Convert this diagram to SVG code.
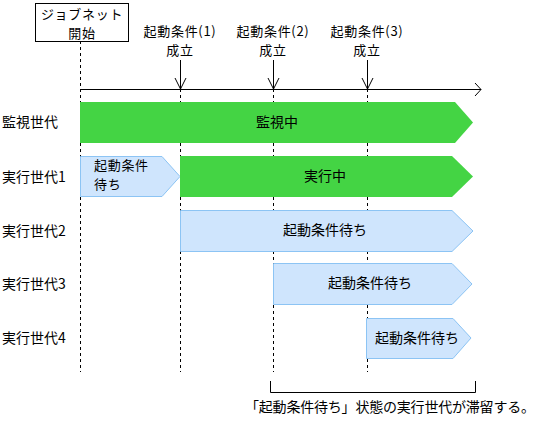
<svg xmlns="http://www.w3.org/2000/svg" width="549" height="421" viewBox="0 0 549 421">
<defs>
<style>
text{font-family:"Noto Sans CJK JP","Noto Sans",sans-serif;font-size:14px;fill:#000}
.mid{text-anchor:middle}
.sm{font-size:13px;letter-spacing:0.7px}
.dash{stroke:#000;stroke-width:1;stroke-dasharray:3,3;fill:none}
.line{stroke:#000;stroke-width:1;fill:none}
.green{fill:#44d444}
.blue{fill:#cfe5fd;stroke:#8cc4f4;stroke-width:1}
</style>
</defs>
<rect width="549" height="421" fill="#fff"/>
<g id="connectors">
<path class="dash" d="M80.5,41 V372"/>
<path class="dash" d="M180.5,89 V372"/>
<path class="dash" d="M273.5,89 V372"/>
<path class="dash" d="M367.5,89 V372"/>
<path class="line" d="M80,89.5 H481 M475,83 L481,89.5 L475,96"/>
<path class="line" d="M180.5,60 V89 M175,78 L180.5,89 L186,78"/>
<path class="line" d="M273.5,60 V89 M268,78 L273.5,89 L279,78"/>
<path class="line" d="M367.5,60 V89 M362,78 L367.5,89 L373,78"/>
<path class="line" d="M270.5,381 V392.5 H475.5 V381"/>
</g>
<g id="start">
<rect x="35.5" y="3.5" width="93" height="38" fill="#fff" stroke="#000"/>
<text class="mid sm" x="82" y="19">ジョブネット</text>
<text class="mid sm" x="82" y="38">開始</text>
</g>
<g id="cond1">
<text class="mid sm" x="180" y="36">起動条件(1)</text>
<text class="mid sm" x="180" y="55">成立</text>
</g>
<g id="cond2">
<text class="mid sm" x="273" y="36">起動条件(2)</text>
<text class="mid sm" x="273" y="55">成立</text>
</g>
<g id="cond3">
<text class="mid sm" x="367" y="36">起動条件(3)</text>
<text class="mid sm" x="367" y="55">成立</text>
</g>
<g id="labels">
<text x="2" y="127">監視世代</text>
<text x="2" y="182">実行世代1</text>
<text x="2" y="236">実行世代2</text>
<text x="2" y="289">実行世代3</text>
<text x="2" y="343">実行世代4</text>
</g>
<g id="monitor">
<polygon class="green" points="80,102 455,102 473,122.5 455,143 80,143"/>
<text class="mid" x="277" y="127">監視中</text>
</g>
<g id="gen1-wait">
<polygon class="blue" points="80.5,156.5 162,156.5 180,176.5 162,196.5 80.5,196.5"/>
<text class="sm" x="94" y="170">起動条件</text>
<text class="sm" x="94" y="189">待ち</text>
</g>
<g id="gen1-run">
<polygon class="green" points="180,156 452,156 473,176.5 452,197 180,197"/>
<text class="mid" x="325" y="181">実行中</text>
</g>
<g id="gen2">
<polygon class="blue" points="180.5,210.5 452,210.5 473,231 452,251.5 180.5,251.5"/>
<text class="mid" x="325" y="235">起動条件待ち</text>
</g>
<g id="gen3">
<polygon class="blue" points="273.5,263.5 452,263.5 472,284 452,304.5 273.5,304.5"/>
<text class="mid" x="370" y="288">起動条件待ち</text>
</g>
<g id="gen4">
<polygon class="blue" points="366.5,318.5 453,318.5 471,338 453,358.5 366.5,358.5"/>
<text class="mid" x="417" y="343">起動条件待ち</text>
</g>
<g id="caption">
<text x="245" y="412" textLength="290">「起動条件待ち」状態の実行世代が滞留する。</text>
</g>
</svg>
